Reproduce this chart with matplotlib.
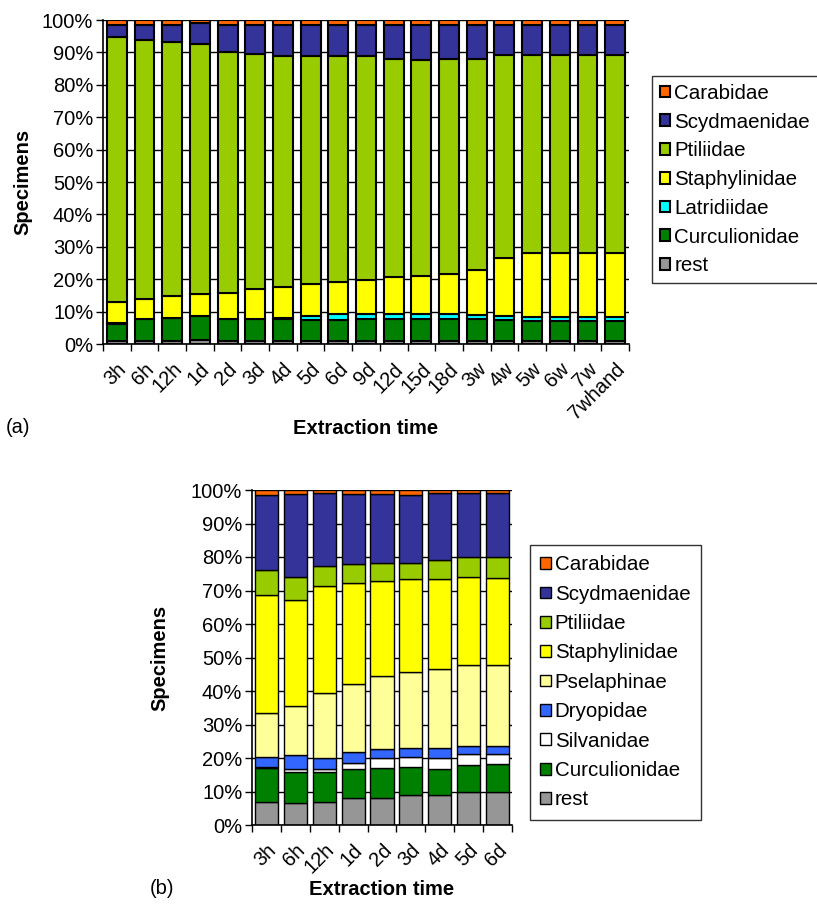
import numpy as np
import matplotlib
matplotlib.use("Agg")
import matplotlib.pyplot as plt

plt.rcParams['font.family'] = ['Liberation Sans', 'DejaVu Sans']

# ---- panel (a) data: share of specimens (%) per family, bottom -> top
times_a = ['3h', '6h', '12h', '1d', '2d', '3d', '4d', '5d', '6d', '9d', '12d',
           '15d', '18d', '3w', '4w', '5w', '6w', '7w', '7whand']
rest_a = [1.0, 1.0, 1.0, 1.2, 1.0, 1.0, 1.0, 1.0, 1.0, 1.0, 1.0,
          1.0, 1.0, 1.0, 1.0, 1.0, 1.0, 1.0, 1.0]
curc_a = [5.2, 6.7, 7.0, 7.3, 6.7, 6.7, 6.7, 6.4, 6.4, 6.6, 6.8,
          6.8, 6.8, 6.8, 6.4, 6.2, 6.2, 6.2, 6.2]
latr_a = [0.3, 0.1, 0.1, 0.1, 0.1, 0.1, 0.3, 1.2, 1.8, 1.6, 1.4,
          1.4, 1.4, 1.2, 1.3, 1.2, 1.2, 1.2, 1.2]
staph_a = [6.4, 6.2, 6.7, 6.7, 8.0, 9.3, 9.5, 9.8, 9.9, 10.6, 11.4,
           11.7, 12.4, 13.7, 17.9, 19.6, 19.6, 19.6, 19.6]
ptil_a = [81.7, 79.9, 78.6, 77.4, 74.5, 72.5, 71.5, 70.6, 69.9, 69.2, 67.5,
          66.7, 66.3, 65.4, 62.6, 61.2, 61.2, 61.2, 61.2]
scyd_a = [3.9, 4.7, 5.2, 6.4, 8.3, 9.0, 9.5, 9.5, 9.5, 9.5, 10.4,
          10.9, 10.6, 10.4, 9.3, 9.3, 9.3, 9.3, 9.3]
carab_a = [1.5, 1.5, 1.5, 1.0, 1.5, 1.5, 1.5, 1.5, 1.5, 1.5, 1.5,
           1.5, 1.5, 1.5, 1.5, 1.5, 1.5, 1.5, 1.5]

# ---- panel (b) data
times_b = ['3h', '6h', '12h', '1d', '2d', '3d', '4d', '5d', '6d']
rest_b = [6.8, 6.5, 6.8, 8.2, 8.2, 9.1, 9.1, 9.9, 9.9]
curc_b = [10.1, 9.4, 9.1, 8.4, 8.7, 8.3, 7.5, 8.0, 8.3]
silv_b = [0.3, 0.7, 0.7, 2.0, 3.0, 3.0, 3.3, 3.3, 3.0]
dryo_b = [3.0, 4.2, 3.5, 3.1, 2.7, 2.5, 3.0, 2.5, 2.5]
psel_b = [13.3, 14.7, 19.2, 20.3, 21.9, 22.9, 23.7, 24.1, 24.1]
staph_b = [35.2, 31.7, 32.1, 30.3, 28.3, 27.5, 26.7, 26.3, 25.8]
ptil_b = [7.4, 6.7, 5.9, 5.6, 5.5, 5.0, 5.8, 6.0, 6.5]
scyd_b = [22.4, 24.9, 21.9, 20.8, 20.5, 20.2, 19.9, 18.9, 18.9]
carab_b = [1.5, 1.2, 0.8, 1.3, 1.2, 1.5, 1.0, 1.0, 1.0]

colors = {
    'Carabidae': '#FF6600', 'Scydmaenidae': '#333399', 'Ptiliidae': '#99CC00',
    'Staphylinidae': '#FFFF00', 'Latridiidae': '#00FFFF', 'Curculionidae': '#008000',
    'rest': '#969696', 'Pselaphinae': '#FFFF99', 'Dryopidae': '#3366FF',
    'Silvanidae': '#FFFFFF',
}

series_a = [('rest', rest_a), ('Curculionidae', curc_a), ('Latridiidae', latr_a),
            ('Staphylinidae', staph_a), ('Ptiliidae', ptil_a),
            ('Scydmaenidae', scyd_a), ('Carabidae', carab_a)]
series_b = [('rest', rest_b), ('Curculionidae', curc_b), ('Silvanidae', silv_b),
            ('Dryopidae', dryo_b), ('Pselaphinae', psel_b), ('Staphylinidae', staph_b),
            ('Ptiliidae', ptil_b), ('Scydmaenidae', scyd_b), ('Carabidae', carab_b)]

FS = 14.5
LFS = 14.8
W, H = 817, 913


def stacked(ax, times, series, width, lw, legend_box, ylab_x, xlab_y, lspace, bpad):
    vals = np.array([s[1] for s in series], dtype=float)
    pct = vals / vals.sum(axis=0) * 100
    x = np.arange(len(times))
    bottom = np.zeros(len(times))
    handles = []
    for (name, _), row in zip(series, pct):
        h = ax.bar(x, row, width, bottom=bottom, color=colors[name],
                   edgecolor='black', linewidth=lw, label=name, zorder=3)
        handles.append(h)
        bottom += row

    ax.set_xlim(-0.5, len(times) - 0.5)
    ax.set_ylim(0, 100)
    ax.set_yticks(np.arange(0, 101, 10))
    ax.set_yticklabels([f'{v}%' for v in range(0, 101, 10)], fontsize=FS)
    ax.yaxis.grid(True, color='black', linewidth=1, zorder=0)
    ax.set_axisbelow(True)

    ax.set_xticks(x)
    ax.set_xticklabels(times, rotation=45, ha='right', va='top',
                       rotation_mode='anchor', fontsize=FS)
    ax.tick_params(axis='x', length=0, pad=11)
    ax.set_xticks(np.arange(len(times) + 1) - 0.5, minor=True)
    ax.tick_params(axis='x', which='minor', length=5, width=1, direction='out')
    ax.tick_params(axis='y', length=5, width=1, direction='out', pad=2)

    for s in ('top', 'right'):
        ax.spines[s].set_visible(False)
    for s in ('left', 'bottom'):
        ax.spines[s].set_linewidth(1.2)
        ax.spines[s].set_zorder(4)

    ax.set_ylabel('Specimens', fontsize=FS, fontweight='bold', va='center')
    ax.yaxis.set_label_coords(ylab_x, 0.5)
    ax.set_xlabel('Extraction time', fontsize=FS, fontweight='bold', va='center')
    ax.xaxis.set_label_coords(0.5, xlab_y)

    leg = ax.legend(handles[::-1], [s[0] for s in series][::-1],
                    loc='upper left', bbox_to_anchor=legend_box,
                    bbox_transform=ax.figure.transFigure,
                    fontsize=LFS, frameon=True, fancybox=False,
                    handlelength=0.5, handleheight=0.5, handletextpad=0.2,
                    borderpad=bpad, labelspacing=lspace, borderaxespad=0)
    leg.get_frame().set_edgecolor('black')
    leg.get_frame().set_linewidth(1)
    return ax


fig = plt.figure(figsize=(8.17, 9.13), dpi=100)

ax_a = fig.add_axes([103 / W, 1 - 344 / H, (629 - 103) / W, (344 - 20) / H])
stacked(ax_a, times_a, series_a, 0.72, 1.5, (652 / W, 1 - 76 / H),
        (23 - 103) / 526, (344 - 428) / 324, 0.475, 0.38)

ax_b = fig.add_axes([252 / W, 1 - 825 / H, (512 - 252) / W, (825 - 490) / H])
stacked(ax_b, times_b, series_b, 0.8, 1.0, (530 / W, 1 - 545 / H),
        (160 - 252) / 260, (825 - 889) / 335, 0.505, 0.5)

fig.text(6 / W, 1 - 427 / H, '(a)', fontsize=FS, va='center', ha='left')
fig.text(150 / W, 1 - 888 / H, '(b)', fontsize=FS, va='center', ha='left')

fig.savefig('out.png', dpi=100)
